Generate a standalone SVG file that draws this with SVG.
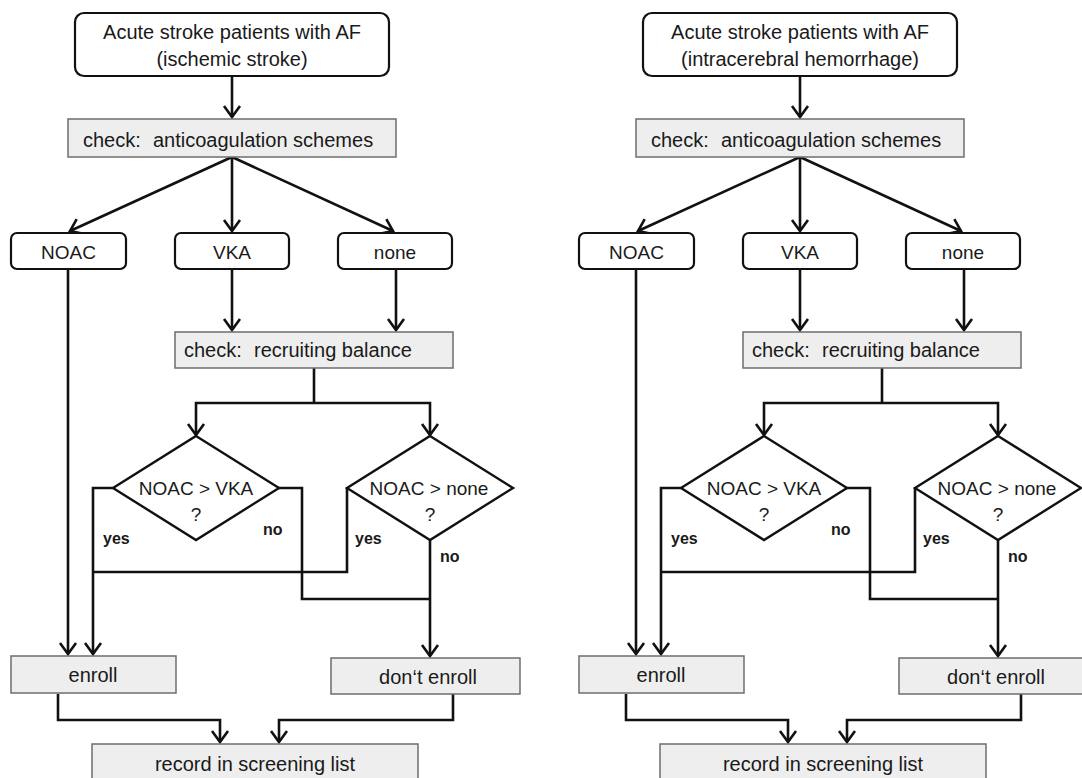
<svg xmlns="http://www.w3.org/2000/svg" width="1082" height="778" viewBox="0 0 1082 778">
<style>
  .bg{fill:#ffffff}
  .rb{fill:#ffffff;stroke:#111;stroke-width:2.2}
  .gb{fill:#eeeeee;stroke:#6e6e6e;stroke-width:1.5}
  .dm{fill:#ffffff;stroke:#111;stroke-width:2.4}
  .ln{fill:none;stroke:#111;stroke-width:2.6;stroke-linejoin:miter}
  .ar{fill:none;stroke:#111;stroke-width:2.6;marker-end:url(#chev)}
  .t{font-family:"Liberation Sans",Arial,sans-serif;font-size:20px;fill:#1a1a1a}
  .tc{font-family:"Liberation Sans",Arial,sans-serif;font-size:19px;fill:#1a1a1a;text-anchor:middle}
  .m{text-anchor:middle}
  .lb{font-family:"Liberation Sans",Arial,sans-serif;font-size:16px;font-weight:bold;fill:#1a1a1a}
</style>
<defs>
  <marker id="chev" markerUnits="userSpaceOnUse" viewBox="-14 -10 16 20" refX="0" refY="0" markerWidth="16" markerHeight="20" orient="auto" overflow="visible">
    <path d="M-11,-8 L0,0 L-11,8" fill="none" stroke="#111" stroke-width="2.6" stroke-linejoin="miter"/>
  </marker>
</defs>
<rect class="bg" x="0" y="0" width="1082" height="778"/>

<g id="panel-left">
  <g id="L-connectors">
    <line class="ar" x1="232" y1="76" x2="232" y2="117"/>
    <line class="ar" x1="232" y1="157" x2="70" y2="231"/>
    <line class="ar" x1="232" y1="157" x2="232" y2="231"/>
    <line class="ar" x1="232" y1="157" x2="393" y2="231"/>
    <line class="ar" x1="232" y1="269" x2="232" y2="330"/>
    <line class="ar" x1="396" y1="269" x2="396" y2="330"/>
    <polyline class="ln" points="314,368 314,403"/>
    <polyline class="ar" points="314,403 196,403 196,435"/>
    <polyline class="ar" points="314,403 430,403 430,435"/>
    <line class="ar" x1="68" y1="269" x2="68" y2="654"/>
    <polyline class="ar" points="113,488 93,488 93,654"/>
    <polyline class="ln" points="278,488 302,488 302,599 430,599"/>
    <polyline class="ln" points="347,488 347,572 93,572"/>
    <line class="ar" x1="430" y1="540" x2="430" y2="656"/>
    <polyline class="ar" points="58,694 58,720 220,720 220,742"/>
    <polyline class="ar" points="453,694 453,720 279,720 279,742"/>
  </g>
  <g id="L-start">
    <rect class="rb" x="75" y="13" width="314" height="63" rx="9"/>
    <text class="t m" x="232" y="38.5">Acute stroke patients with AF</text>
    <text class="t m" x="232" y="66">(ischemic stroke)</text>
  </g>
  <g id="L-check-anticoag">
    <rect class="gb" x="68" y="119" width="328" height="38"/>
    <text class="t" x="83" y="147">check:<tspan x="153">anticoagulation schemes</tspan></text>
  </g>
  <g id="L-noac">
    <rect class="rb" x="11" y="233" width="115" height="36" rx="6"/>
    <text class="tc" x="68.5" y="259">NOAC</text>
  </g>
  <g id="L-vka">
    <rect class="rb" x="175" y="233" width="114" height="36" rx="6"/>
    <text class="tc" x="232" y="259">VKA</text>
  </g>
  <g id="L-none">
    <rect class="rb" x="338" y="233" width="114" height="36" rx="6"/>
    <text class="tc" x="395" y="259">none</text>
  </g>
  <g id="L-check-balance">
    <rect class="gb" x="175" y="332" width="278" height="36"/>
    <text class="t" x="184" y="357">check:<tspan x="254">recruiting balance</tspan></text>
  </g>
  <g id="L-dec-vka">
    <polygon class="dm" points="196,436 279,488 196,540 113,488"/>
    <text class="tc" x="196" y="495">NOAC &gt; VKA</text>
    <text class="tc" x="196" y="521">?</text>
  </g>
  <g id="L-dec-none">
    <polygon class="dm" points="430,436 513,488 430,540 347,488"/>
    <text class="tc" x="429" y="495">NOAC &gt; none</text>
    <text class="tc" x="430" y="521">?</text>
  </g>
  <g id="L-labels">
    <text class="lb" x="103" y="544">yes</text>
    <text class="lb" x="263" y="535">no</text>
    <text class="lb" x="355" y="544">yes</text>
    <text class="lb" x="440" y="562">no</text>
  </g>
  <g id="L-enroll">
    <rect class="gb" x="11" y="656" width="165" height="37"/>
    <text class="t m" x="93" y="682">enroll</text>
  </g>
  <g id="L-dont-enroll">
    <rect class="gb" x="331" y="658" width="189" height="36"/>
    <text class="t m" x="428" y="684">don‘t enroll</text>
  </g>
  <g id="L-record">
    <rect class="gb" x="92" y="744" width="326" height="45"/>
    <text class="t m" x="255" y="771">record in screening list</text>
  </g>
</g>

<g id="panel-right" transform="translate(568,0)">
  <g id="R-connectors">
    <line class="ar" x1="232" y1="76" x2="232" y2="117"/>
    <line class="ar" x1="232" y1="157" x2="70" y2="231"/>
    <line class="ar" x1="232" y1="157" x2="232" y2="231"/>
    <line class="ar" x1="232" y1="157" x2="393" y2="231"/>
    <line class="ar" x1="232" y1="269" x2="232" y2="330"/>
    <line class="ar" x1="396" y1="269" x2="396" y2="330"/>
    <polyline class="ln" points="314,368 314,403"/>
    <polyline class="ar" points="314,403 196,403 196,435"/>
    <polyline class="ar" points="314,403 430,403 430,435"/>
    <line class="ar" x1="68" y1="269" x2="68" y2="654"/>
    <polyline class="ar" points="113,488 93,488 93,654"/>
    <polyline class="ln" points="278,488 302,488 302,599 430,599"/>
    <polyline class="ln" points="347,488 347,572 93,572"/>
    <line class="ar" x1="430" y1="540" x2="430" y2="656"/>
    <polyline class="ar" points="58,694 58,720 220,720 220,742"/>
    <polyline class="ar" points="453,694 453,720 279,720 279,742"/>
  </g>
  <g id="R-start">
    <rect class="rb" x="75" y="13" width="314" height="63" rx="9"/>
    <text class="t m" x="232" y="38.5">Acute stroke patients with AF</text>
    <text class="t m" x="232" y="66">(intracerebral hemorrhage)</text>
  </g>
  <g id="R-check-anticoag">
    <rect class="gb" x="68" y="119" width="328" height="38"/>
    <text class="t" x="83" y="147">check:<tspan x="153">anticoagulation schemes</tspan></text>
  </g>
  <g id="R-noac">
    <rect class="rb" x="11" y="233" width="115" height="36" rx="6"/>
    <text class="tc" x="68.5" y="259">NOAC</text>
  </g>
  <g id="R-vka">
    <rect class="rb" x="175" y="233" width="114" height="36" rx="6"/>
    <text class="tc" x="232" y="259">VKA</text>
  </g>
  <g id="R-none">
    <rect class="rb" x="338" y="233" width="114" height="36" rx="6"/>
    <text class="tc" x="395" y="259">none</text>
  </g>
  <g id="R-check-balance">
    <rect class="gb" x="175" y="332" width="278" height="36"/>
    <text class="t" x="184" y="357">check:<tspan x="254">recruiting balance</tspan></text>
  </g>
  <g id="R-dec-vka">
    <polygon class="dm" points="196,436 279,488 196,540 113,488"/>
    <text class="tc" x="196" y="495">NOAC &gt; VKA</text>
    <text class="tc" x="196" y="521">?</text>
  </g>
  <g id="R-dec-none">
    <polygon class="dm" points="430,436 513,488 430,540 347,488"/>
    <text class="tc" x="429" y="495">NOAC &gt; none</text>
    <text class="tc" x="430" y="521">?</text>
  </g>
  <g id="R-labels">
    <text class="lb" x="103" y="544">yes</text>
    <text class="lb" x="263" y="535">no</text>
    <text class="lb" x="355" y="544">yes</text>
    <text class="lb" x="440" y="562">no</text>
  </g>
  <g id="R-enroll">
    <rect class="gb" x="11" y="656" width="165" height="37"/>
    <text class="t m" x="93" y="682">enroll</text>
  </g>
  <g id="R-dont-enroll">
    <rect class="gb" x="331" y="658" width="189" height="36"/>
    <text class="t m" x="428" y="684">don‘t enroll</text>
  </g>
  <g id="R-record">
    <rect class="gb" x="92" y="744" width="326" height="45"/>
    <text class="t m" x="255" y="771">record in screening list</text>
  </g>
</g>
</svg>
